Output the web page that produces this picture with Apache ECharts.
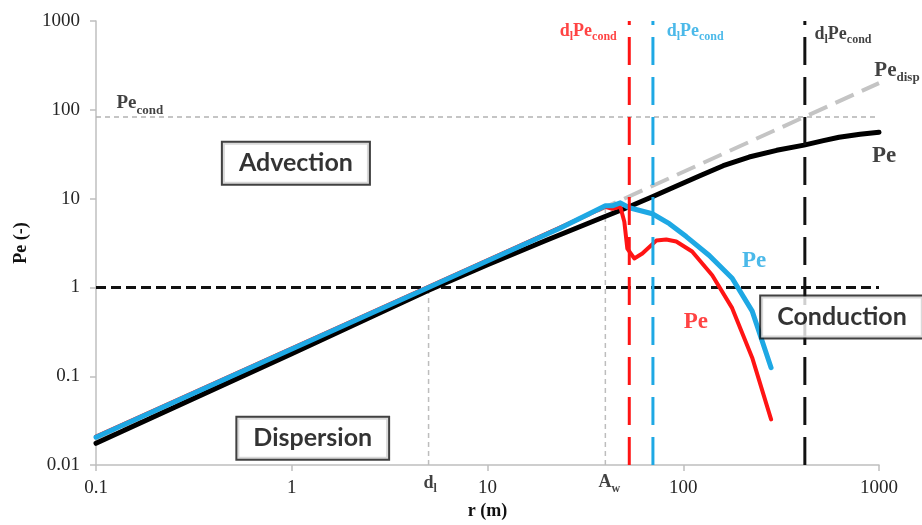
<!DOCTYPE html>
<html>
<head>
<meta charset="utf-8">
<script src="https://cdn.jsdelivr.net/npm/echarts@6/dist/echarts.min.js"></script>
<style>
  html, body { margin: 0; padding: 0; background: #fff; }
  #chart { width: 922px; height: 525px; }
</style>
</head>
<body>
<div id="chart"></div>
<script>
// r (m) and Pe (-)
var blackR  = [0.1, 1, 5, 10, 20, 37.3, 50, 69.5, 90, 120.8, 160, 217, 300, 414, 520, 625, 800, 1000];
var blackPe = [0.0176, 0.18, 0.93, 1.8, 3.4, 5.94, 7.7, 10.5, 13.5, 18, 23.5, 29.4, 35, 40, 45, 49.1, 53, 55.8];

var blueR  = [0.1, 23.3, 40, 43.4, 47.7, 53, 69.5, 84.9, 103.6, 135.8, 177.8, 225, 281];
var bluePe = [0.0206, 4.6, 8.3, 8.3, 8.97, 7.9, 6.76, 5.22, 3.74, 2.29, 1.27, 0.542, 0.125];

var redR  = [0.1, 23.3, 40, 43.4, 47.7, 50, 51.8, 56.2, 61.8, 72.8, 81.9, 92.1, 111, 140.6, 177.8, 225, 281];
var redPe = [0.021, 4.7, 8.1, 7.7, 8.1, 5.5, 2.74, 2.12, 2.41, 3.37, 3.46, 3.29, 2.54, 1.37, 0.585, 0.162, 0.0327];

var dispR  = [0.1, 1000];
var dispPe = [0.02, 200];

var peCond = 83;      // horizontal grey dotted
var peOne = 1;        // horizontal black dashed
var dl = 5;           // d_l
var aw = 40;          // A_w
var rCondRed = 53, rCondBlue = 70, rCondBlack = 418;

var xTicks = [0.1, 1, 10, 100, 1000];
var yTicks = [0.01, 0.1, 1, 10, 100, 1000];

function zip(a, b) { return a.map(function (v, i) { return [v, b[i]]; }); }

var RED = '#ff1414', BLUE = '#1ea8e4', SERIF = 'Liberation Serif';

function sub(color, big, small) {
  return {
    b: { fontFamily: SERIF, fontWeight: 'bold', fontSize: big, color: color, verticalAlign: 'top' },
    s: { fontFamily: SERIF, fontWeight: 'bold', fontSize: small, color: color, verticalAlign: 'top', padding: [Math.round(big * 0.5), 0, 0, 0] }
  };
}
function boxLabel(text) {
  return {
    show: true, position: 'inside', formatter: text,
    fontFamily: 'Lato', fontWeight: 'bold', fontSize: 25, color: '#000',
    backgroundColor: '#fff', borderColor: '#111', borderWidth: 2, padding: [8, 16, 8, 16]
  };
}
function txt(text, color, big, small) {
  return { show: true, position: 'inside', formatter: text, rich: sub(color, big, small) };
}

var labels = [
  { value: [0.1675, 112], label: txt('{b|Pe}{s|cond}', '#111', 19, 13) },
  { value: [32.7, 735], label: txt('{b|d}{s|l}{b|Pe}{s|cond}', RED, 18, 12) },
  { value: [115, 735], label: txt('{b|d}{s|l}{b|Pe}{s|cond}', BLUE, 18, 12) },
  { value: [655, 680], label: txt('{b|d}{s|l}{b|Pe}{s|cond}', '#111', 18, 12) },
  { value: [1236, 269], label: txt('{b|Pe}{s|disp}', '#111', 21, 13) },
  { value: [1062, 30.1], label: txt('{b|Pe}', '#111', 23, 13) },
  { value: [230, 1.96], label: txt('{b|Pe}', BLUE, 23, 13) },
  { value: [116, 0.41], label: txt('{b|Pe}', RED, 23, 13) },
  { value: [5.1, 0.006], label: txt('{b|d}{s|l}', '#111', 18, 12) },
  { value: [41.9, 0.0061], label: txt('{b|A}{s|w}', '#111', 18, 12) },
  { value: [1.05, 25.1], label: boxLabel('Advection') },
  { value: [1.28, 0.02], label: boxLabel('Dispersion') },
  { value: [647, 0.464], label: boxLabel('Conduction') }
];

function refLine(data, color, width, dash, z) {
  return {
    type: 'line', data: data, symbol: 'none', silent: true, z: z,
    lineStyle: { color: color, width: width, type: dash }
  };
}

var option = {
  animation: false,
  backgroundColor: '#fff',
  grid: { left: 96, right: 43, top: 21, bottom: 57 },
  xAxis: {
    type: 'log', logBase: 10, min: xTicks[0], max: xTicks[xTicks.length - 1],
    name: 'r (m)', nameLocation: 'middle', nameGap: 36,
    nameTextStyle: { fontFamily: SERIF, fontWeight: 'bold', fontSize: 18, color: '#111' },
    axisLine: { lineStyle: { color: '#bfbfbf', width: 1.5 } },
    axisTick: { show: true, length: 6, lineStyle: { color: '#bfbfbf', width: 1.5 } },
    axisLabel: { fontFamily: SERIF, fontSize: 19, color: '#262626', margin: 13,
      formatter: function (v) { return String(+v.toPrecision(6)); } },
    splitLine: { show: false }
  },
  yAxis: {
    type: 'log', logBase: 10, min: yTicks[0], max: yTicks[yTicks.length - 1],
    name: 'Pe (-)', nameLocation: 'middle', nameGap: 66, nameRotate: 90,
    nameTextStyle: { fontFamily: SERIF, fontWeight: 'bold', fontSize: 18, color: '#111' },
    axisLine: { show: true, lineStyle: { color: '#bfbfbf', width: 1.5 } },
    axisTick: { show: true, length: 6, lineStyle: { color: '#bfbfbf', width: 1.5 } },
    axisLabel: { fontFamily: SERIF, fontSize: 19, color: '#262626', margin: 16,
      formatter: function (v) { return String(+v.toPrecision(6)); } },
    splitLine: { show: false }
  },
  series: [
    refLine([[xTicks[0], peCond], [xTicks[4], peCond]], '#b3b3b3', 1.5, [5, 4], 1),
    refLine([[dl, yTicks[0]], [dl, peOne]], '#bdbdbd', 1.5, [5, 4], 1),
    refLine([[aw, yTicks[0]], [aw, 8.3]], '#bdbdbd', 1.5, [5, 4], 1),
    {
      name: 'Pe_disp', type: 'line', data: zip(dispR, dispPe), symbol: 'none', z: 2,
      lineStyle: { color: '#c4c4c4', width: 4, type: [20, 9] }
    },
    refLine([[xTicks[0], peOne], [xTicks[4], peOne]], '#111', 3, [10, 5], 3),
    {
      name: 'Pe black', type: 'line', data: zip(blackR, blackPe), symbol: 'none', z: 4,
      lineStyle: { color: '#000', width: 5, join: 'round', cap: 'round' }
    },
    {
      name: 'Pe red', type: 'line', data: zip(redR, redPe), symbol: 'none', z: 5,
      lineStyle: { color: RED, width: 4, join: 'round', cap: 'round' }
    },
    {
      name: 'Pe blue', type: 'line', data: zip(blueR, bluePe), symbol: 'none', z: 6,
      lineStyle: { color: BLUE, width: 5, join: 'round', cap: 'round' }
    },
    refLine([[rCondRed, yTicks[0]], [rCondRed, yTicks[5]]], RED, 3, [28, 12], 7),
    refLine([[rCondBlue, yTicks[0]], [rCondBlue, yTicks[5]]], BLUE, 3, [28, 12], 7),
    refLine([[rCondBlack, yTicks[0]], [rCondBlack, yTicks[5]]], '#111', 3, [28, 12], 7),
    {
      name: 'labels', type: 'scatter', data: labels, symbolSize: 0, clip: false, silent: true, z: 10
    }
  ]
};

var chart = echarts.init(document.getElementById('chart'));
chart.setOption(option);
</script>
</body>
</html>
